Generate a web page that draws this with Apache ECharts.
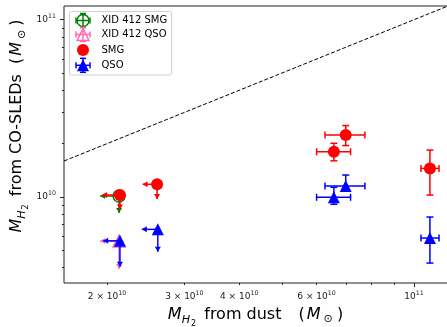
<!DOCTYPE html>
<html>
<head>
<meta charset="utf-8" />
<script src="https://cdn.jsdelivr.net/npm/echarts@6/dist/echarts.min.js"></script>
<style>html,body{margin:0;padding:0;background:#fff}#main{width:447px;height:327px}</style>
</head>
<body>
<div id="main"></div>
<script>
// SMG sample (M_sun); lim = 1 means an upper limit on both axes
var smgX   = [2.14e10, 2.60e10, 6.99e10, 6.57e10, 1.087e11];
var smgY   = [1.026e10, 1.18e10, 2.24e10, 1.80e10, 1.45e10];
var smgXLo = [1.95e10, 2.41e10, 6.27e10, 6.00e10, 1.037e11];
var smgXHi = [2.14e10, 2.60e10, 7.73e10, 7.17e10, 1.14e11];
var smgYLo = [8.50e9, 9.74e9, 1.95e10, 1.60e10, 1.026e10];
var smgYHi = [1.026e10, 1.18e10, 2.53e10, 2.01e10, 1.84e10];
var smgLim = [1, 1, 0, 0, 0];

// QSO sample
var qsoX   = [2.14e10, 2.61e10, 6.99e10, 6.57e10, 1.087e11];
var qsoY   = [5.66e9, 6.57e9, 1.154e10, 9.96e9, 5.87e9];
var qsoXLo = [1.96e10, 2.40e10, 6.27e10, 6.00e10, 1.037e11];
var qsoXHi = [2.14e10, 2.61e10, 7.73e10, 7.17e10, 1.14e11];
var qsoYLo = [4.04e9, 4.91e9, 1.095e10, 9.10e9, 4.24e9];
var qsoYHi = [5.66e9, 6.57e9, 1.33e10, 1.134e10, 7.71e9];
var qsoLim = [1, 1, 0, 0, 0];

// XID 412 (upper limits)
var xidSmgX = [2.13e10], xidSmgY = [1.013e10], xidSmgXLo = [1.93e10], xidSmgYLo = [8.12e9];
var xidQsoX = [2.13e10], xidQsoY = [5.64e9],   xidQsoXLo = [1.93e10], xidQsoYLo = [3.92e9];

// axes
var xRange = [1.596e10, 1.195e11];
var yRange = [3.273e9, 1.195e11];
var xTickVals = [2e10, 3e10, 4e10, 6e10, 1e11];
var xTickText = ['{n|2 × 10}{s|10}', '{n|3 × 10}{s|10}', '{n|4 × 10}{s|10}', '{n|6 × 10}{s|10}', '{n|10}{s|11}'];
var xMajor = [1e11];
var xMinor = [2e10, 3e10, 4e10, 5e10, 6e10, 7e10, 8e10, 9e10];
var yTickVals = [1e10, 1e11];
var yTickText = ['{n|10}{s|10}', '{n|10}{s|11}'];
var yMajor = [1e10, 1e11];
var yMinor = [4e9, 5e9, 6e9, 7e9, 8e9, 9e9, 2e10, 3e10, 4e10, 5e10, 6e10, 7e10, 8e10, 9e10];
var legendNames = ['XID 412 SMG', 'XID 412 QSO', 'SMG', 'QSO'];

var lg = Math.log10;
var FONT = 'DejaVu Sans';

function rows(x, y, xlo, xhi, ylo, yhi, lim) {
    return x.map(function (v, i) {
        return [lg(v), lg(y[i]), lg(xlo[i]), lg(xhi[i]), lg(ylo[i]), lg(yhi[i]), lim[i]];
    });
}

function marker(kind, cx, cy, color, filled) {
    if (kind === 'circle') {
        return { type: 'circle', shape: { cx: cx, cy: cy, r: 6 },
            style: filled ? { fill: color } : { fill: 'none', stroke: color, lineWidth: 1.5 } };
    }
    return { type: 'polygon', shape: { points: [[cx, cy - 6], [cx - 6, cy + 6], [cx + 6, cy + 6]] },
        style: filled ? { fill: color } : { fill: 'none', stroke: color, lineWidth: 1.5 } };
}

function seg(a, b, color) {
    return { type: 'line', shape: { x1: a[0], y1: a[1], x2: b[0], y2: b[1] }, style: { stroke: color, lineWidth: 1.5 } };
}

// error bars, caps, limit arrows and the marker
function errRender(color, kind, filled) {
    return function (params, api) {
        var p = api.coord([api.value(0), api.value(1)]);
        var xl = api.coord([api.value(2), api.value(1)]);
        var xh = api.coord([api.value(3), api.value(1)]);
        var yl = api.coord([api.value(0), api.value(4)]);
        var yh = api.coord([api.value(0), api.value(5)]);
        var ch = [seg(xl, xh, color), seg(yl, yh, color)];
        if (api.value(6)) {
            ch.push({ type: 'polygon', shape: { points: [[xl[0], xl[1]], [xl[0] + 5, xl[1] - 3], [xl[0] + 5, xl[1] + 3]] }, style: { fill: color } });
            ch.push({ type: 'polygon', shape: { points: [[yl[0], yl[1]], [yl[0] - 3, yl[1] - 5], [yl[0] + 3, yl[1] - 5]] }, style: { fill: color } });
        } else {
            [xl, xh].forEach(function (q) { ch.push(seg([q[0], q[1] - 3.5], [q[0], q[1] + 3.5], color)); });
            [yl, yh].forEach(function (q) { ch.push(seg([q[0] - 3.5, q[1]], [q[0] + 3.5, q[1]], color)); });
        }
        ch.push(marker(kind, p[0], p[1], color, filled));
        return { type: 'group', children: ch };
    };
}

function tickFmt(vals, texts) {
    return function (v) {
        for (var i = 0; i < vals.length; i++) {
            if (Math.abs(lg(vals[i]) - v) < 1e-6) return texts[i];
        }
        return '';
    };
}

var rich = {
    n: { fontFamily: FONT, fontSize: 9, color: '#222', lineHeight: 13 },
    s: { fontFamily: FONT, fontSize: 6.3, color: '#222', lineHeight: 7, verticalAlign: 'top' }
};

// mathtext-like axis titles built from pieces
var mctx = document.createElement('canvas').getContext('2d');
function mathTitle(pieces, cx, cy, vertical) {
    var kids = [], w = 0;
    pieces.forEach(function (s) {
        mctx.font = (s.it ? 'italic ' : '') + s.size + 'px "' + FONT + '"';
        w += s.gap || 0;
        kids.push({ type: 'text', x: w, y: -0.33 * s.size + (s.dy || 0),
            style: { text: s.t, fontFamily: FONT, fontSize: s.size, fontStyle: s.it ? 'italic' : 'normal',
                fill: '#000', align: 'left', verticalAlign: 'middle' } });
        w += mctx.measureText(s.t).width;
    });
    if (vertical) return { type: 'group', x: cx, y: cy + w / 2, rotation: Math.PI / 2, children: kids, silent: true };
    return { type: 'group', x: cx - w / 2, y: cy, children: kids, silent: true };
}
function titlePieces(mid, gap) {
    return [
        { t: 'M', size: 16, it: true },
        { t: 'H', size: 11.2, it: true, dy: 3.5 },
        { t: '2', size: 8, dy: 6.5, gap: 1 },
        { t: mid, size: 16, gap: 3 },
        { t: '(', size: 16, gap: gap },
        { t: 'M', size: 16, it: true, gap: 2 },
        { t: '\u2299', size: 11.2, dy: 3, gap: 3 },
        { t: ')', size: 16, gap: 4 }
    ];
}

function legendGraphics() {
    var g = [{ type: 'rect', shape: { x: 69.5, y: 11.5, width: 102, height: 63.5, r: 2 },
        style: { fill: 'rgba(255,255,255,0.8)', stroke: '#d0d0d0', lineWidth: 1 } }];
    var rowsY = [20.5, 34.5, 50, 65.3];
    var cx = 83;
    var crossCaps = function (cy, color) {
        return [seg([cx - 7, cy], [cx + 7, cy], color), seg([cx, cy - 7], [cx, cy + 7], color),
            seg([cx - 7, cy - 3], [cx - 7, cy + 3], color), seg([cx + 7, cy - 3], [cx + 7, cy + 3], color),
            seg([cx - 3, cy - 7], [cx + 3, cy - 7], color), seg([cx - 3, cy + 7], [cx + 3, cy + 7], color)];
    };
    g = g.concat(crossCaps(rowsY[0], 'green'));
    g.push(marker('circle', cx, rowsY[0], 'green', false));
    g = g.concat(crossCaps(rowsY[1], 'hotpink'));
    g.push(marker('triangle', cx, rowsY[1], 'hotpink', false));
    g.push(marker('circle', cx, rowsY[2], '#ff0000', true));
    g = g.concat(crossCaps(rowsY[3], '#0000ff'));
    g.push(marker('triangle', cx, rowsY[3], '#0000ff', true));
    legendNames.forEach(function (name, i) {
        g.push({ type: 'text', x: 101.5, y: rowsY[i],
            style: { text: name, fontFamily: FONT, fontSize: 10, fill: '#000', verticalAlign: 'middle' } });
    });
    return g;
}

var myChart = echarts.init(document.getElementById('main'), null, { renderer: 'canvas' });
var xMin = lg(xRange[0]), xMax = lg(xRange[1]);
var yMin = lg(yRange[0]), yMax = lg(yRange[1]);
var tickLine = { color: '#222', width: 1 };

var option = {
    animation: false,
    backgroundColor: '#fff',
    grid: { left: 64, top: 6, width: 384, height: 277, show: true, borderColor: '#222', borderWidth: 1,
        backgroundColor: 'transparent', containLabel: false, outerBoundsMode: 'none' },
    xAxis: [{
        type: 'value', min: xMin, max: xMax, position: 'bottom',
        axisLine: { show: false }, splitLine: { show: false },
        axisTick: { length: 4, lineStyle: tickLine, customValues: xMajor.map(lg) },
        axisLabel: { customValues: xTickVals.map(lg), formatter: tickFmt(xTickVals, xTickText), rich: rich, margin: 7 }
    }, {
        type: 'value', min: xMin, max: xMax, position: 'bottom',
        axisLine: { show: false }, splitLine: { show: false },
        axisTick: { length: 2, lineStyle: tickLine, customValues: xMinor.map(lg) },
        axisLabel: { show: false }
    }],
    yAxis: [{
        type: 'value', min: yMin, max: yMax, position: 'left',
        axisLine: { show: false }, splitLine: { show: false },
        axisTick: { length: 4, lineStyle: tickLine, customValues: yMajor.map(lg) },
        axisLabel: { customValues: yTickVals.map(lg), formatter: tickFmt(yTickVals, yTickText), rich: rich, margin: 8 }
    }, {
        type: 'value', min: yMin, max: yMax, position: 'left',
        axisLine: { show: false }, splitLine: { show: false },
        axisTick: { length: 2, lineStyle: tickLine, customValues: yMinor.map(lg) },
        axisLabel: { show: false }
    }],
    series: [{
        type: 'line', data: [[xMin, xMin], [xMax, xMax]], symbol: 'none', silent: true,
        lineStyle: { color: '#000', width: 1, type: [4, 2] }
    }, {
        type: 'custom', name: legendNames[0], renderItem: errRender('green', 'circle', false),
        data: rows(xidSmgX, xidSmgY, xidSmgXLo, xidSmgX, xidSmgYLo, xidSmgY, [1]), encode: { x: 0, y: 1 }
    }, {
        type: 'custom', name: legendNames[1], renderItem: errRender('hotpink', 'triangle', false),
        data: rows(xidQsoX, xidQsoY, xidQsoXLo, xidQsoX, xidQsoYLo, xidQsoY, [1]), encode: { x: 0, y: 1 }
    }, {
        type: 'custom', name: legendNames[2], renderItem: errRender('#ff0000', 'circle', true),
        data: rows(smgX, smgY, smgXLo, smgXHi, smgYLo, smgYHi, smgLim), encode: { x: 0, y: 1 }
    }, {
        type: 'custom', name: legendNames[3], renderItem: errRender('#0000ff', 'triangle', true),
        data: rows(qsoX, qsoY, qsoXLo, qsoXHi, qsoYLo, qsoYHi, qsoLim), encode: { x: 0, y: 1 }
    }],
    graphic: legendGraphics().concat([
        mathTitle(titlePieces(' from dust', 17), 255.5, 320, false),
        mathTitle(titlePieces(' from CO-SLEDs', 10), 22.5, 126, true)
    ])
};
myChart.setOption(option);
</script>
</body>
</html>
